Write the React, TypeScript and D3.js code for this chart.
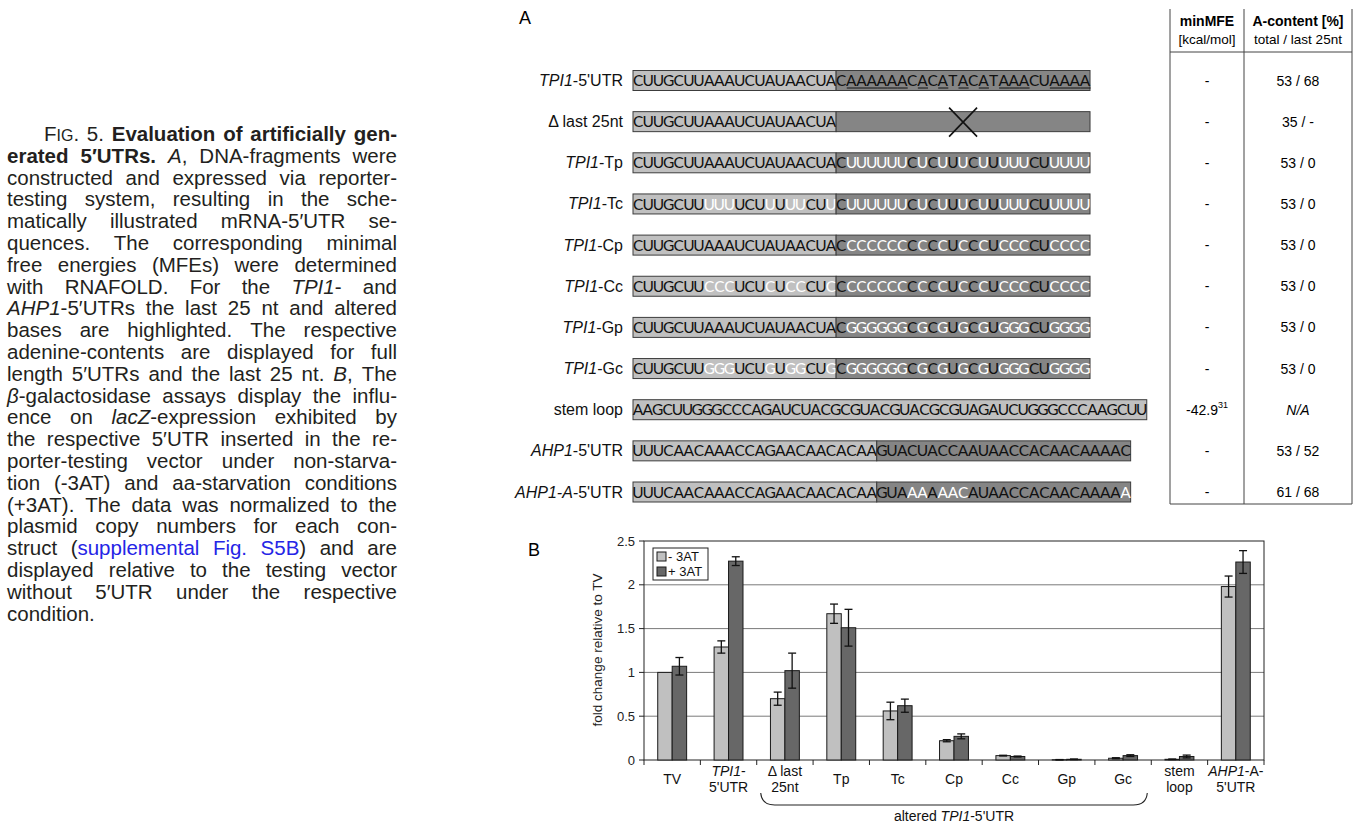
import React from 'react';
import * as d3 from 'd3';

// ---------- panel A: constructs ----------
const constructLabels = ["_TPI1_-5'UTR", 'Δ last 25nt', '_TPI1_-Tp', '_TPI1_-Tc', '_TPI1_-Cp', '_TPI1_-Cc',
  '_TPI1_-Gp', '_TPI1_-Gc', 'stem loop', "_AHP1_-5'UTR", "_AHP1-A-_5'UTR"];

// lower case = altered base (drawn white)
const headSeqs = [
  'CUUGCUUAAAUCUAUAACUA', 'CUUGCUUAAAUCUAUAACUA', 'CUUGCUUAAAUCUAUAACUA', 'CUUGCUUuuuUCUuUuuCUu',
  'CUUGCUUAAAUCUAUAACUA', 'CUUGCUUcccUCUcUccCUc', 'CUUGCUUAAAUCUAUAACUA', 'CUUGCUUgggUCUgUggCUg',
  'AAGCUUGGGCCCAGAUCUACGCGUACGUACGCGUAGAUCUGGGCCCAAGCUU',
  'UUUCAACAAACCAGAACAACACAA', 'UUUCAACAAACCAGAACAACACAA'];

// last 25 nt, '-' = deleted
const tailSeqs = [
  'CAAAAAACACATACATAAACUAAAA', '-------------------------',
  'CuuuuuuCuCuUuCuUuuuCUuuuu', 'CuuuuuuCuCuUuCuUuuuCUuuuu',
  'CccccccCcCcUcCcUcccCUcccc', 'CccccccCcCcUcCcUcccCUcccc',
  'CggggggCgCgUgCgUgggCUgggg', 'CggggggCgCgUgCgUgggCUgggg',
  '', 'GUACUACCAAUAACCACAACAAAAC', 'GUAaaAaacAUAACCACAACAAAAa'];

const underlineA = [true, false, false, false, false, false, false, false, false, false, false];

const mfeValues = ['-', '-', '-', '-', '-', '-', '-', '-', '-42.9', '-', '-'];
const mfeRefs = ['', '', '', '', '', '', '', '', '31', '', ''];
const aContent = ['53 / 68', '35 / -', '53 / 0', '53 / 0', '53 / 0', '53 / 0', '53 / 0', '53 / 0', '_N/A_', '53 / 52', '61 / 68'];

// ---------- panel B: beta-gal assay ----------
const categories = ['TV', "_TPI1_-|5'UTR", 'Δ last|25nt', 'Tp', 'Tc', 'Cp', 'Cc', 'Gp', 'Gc', 'stem|loop', "_AHP1_-A-|5'UTR"];
const minus3AT = [1.0, 1.29, 0.70, 1.67, 0.56, 0.22, 0.05, 0.003, 0.02, 0.008, 1.98];
const minus3ATErr = [0, 0.07, 0.075, 0.11, 0.10, 0.012, 0.004, 0.002, 0.006, 0.003, 0.12];
const plus3AT = [1.07, 2.27, 1.02, 1.51, 0.62, 0.27, 0.04, 0.008, 0.05, 0.04, 2.26];
const plus3ATErr = [0.10, 0.05, 0.20, 0.21, 0.075, 0.028, 0.005, 0.003, 0.01, 0.016, 0.13];
const yTicks = [0, 0.5, 1, 1.5, 2, 2.5];
const legendLabels = ['- 3AT', '+ 3AT'];

// ---------- caption ----------
const captionLines = [
  'F^IG^. 5. **Evaluation of artificially gen-**',
  '**erated 5′UTRs.** _A_, DNA-fragments were',
  'constructed and expressed via reporter-',
  'testing system, resulting in the sche-',
  'matically illustrated mRNA-5′UTR se-',
  'quences. The corresponding minimal',
  'free energies (MFEs) were determined',
  'with RNAFOLD. For the _TPI1_- and',
  '_AHP1_-5′UTRs the last 25 nt and altered',
  'bases are highlighted. The respective',
  'adenine-contents are displayed for full',
  'length 5′UTRs and the last 25 nt. _B_, The',
  '_β_-galactosidase assays display the influ-',
  'ence on _lacZ_-expression exhibited by',
  'the respective 5′UTR inserted in the re-',
  'porter-testing vector under non-starva-',
  'tion (-3AT) and aa-starvation conditions',
  '(+3AT). The data was normalized to the',
  'plasmid copy numbers for each con-',
  'struct ([supplemental Fig. S5B]) and are',
  'displayed relative to the testing vector',
  'without 5′UTR under the respective',
  'condition.',
];

const SANS = '"Liberation Sans", Arial, sans-serif';
const CAP_SIZE = 20.5;

const canvas = document.createElement('canvas');
const ctx = canvas.getContext('2d')!;
function measure(t: string, size: number, b: boolean, i: boolean) {
  ctx.font = `${i ? 'italic ' : ''}${b ? 'bold ' : ''}${size}px "Liberation Sans"`;
  return ctx.measureText(t).width;
}

type Run = { t: string; b: boolean; i: boolean; l: boolean; sc: boolean };
function parseLine(s: string): Run[][] {
  const words: Run[][] = [];
  let cur: Run[] = [];
  let b = false, it = false, l = false, sc = false, buf = '';
  const flush = () => { if (buf) { cur.push({ t: buf, b, i: it, l, sc }); buf = ''; } };
  for (let k = 0; k < s.length; k++) {
    const c = s[k];
    if (c === '*' && s[k + 1] === '*') { flush(); b = !b; k++; continue; }
    if (c === '_') { flush(); it = !it; continue; }
    if (c === '[') { flush(); l = true; continue; }
    if (c === ']') { flush(); l = false; continue; }
    if (c === '^') { flush(); sc = !sc; continue; }
    if (c === ' ') { flush(); if (cur.length) words.push(cur); cur = []; continue; }
    buf += c;
  }
  flush();
  if (cur.length) words.push(cur);
  return words;
}
const runWidth = (r: Run) => measure(r.t, r.sc ? CAP_SIZE * 0.78 : CAP_SIZE, r.b, r.i);

function rich(s: string) {
  return s.split('_').map((p, k) => p ? <tspan key={k} fontStyle={k % 2 ? 'italic' : 'normal'}>{p}</tspan> : null);
}

function Caption() {
  const left = 7, right = 397, y0 = 141, lh = 21.8, indent = 37;
  return (
    <g fontFamily={SANS} fontSize={CAP_SIZE} fill="#231f20">
      {captionLines.map((line, li) => {
        const words = parseLine(line);
        const widths = words.map(w => d3.sum(w, runWidth));
        const x0 = left + (li === 0 ? indent : 0);
        const last = li === captionLines.length - 1;
        const gap = last ? measure(' ', CAP_SIZE, false, false)
          : (right - x0 - d3.sum(widths)) / (words.length - 1);
        let x = x0;
        return words.map((w, wi) => {
          const el = (
            <text key={`${li}-${wi}`} x={x} y={y0 + li * lh}>
              {w.map((r, ri) => (
                <tspan key={ri} fontWeight={r.b ? 'bold' : 'normal'} fontStyle={r.i ? 'italic' : 'normal'}
                  fontSize={r.sc ? CAP_SIZE * 0.78 : CAP_SIZE} fill={r.l ? '#2525e6' : '#231f20'}>{r.t}</tspan>
              ))}
            </text>
          );
          x += widths[wi] + gap;
          return el;
        });
      })}
    </g>
  );
}

function PanelA() {
  const seqLeft = 633;
  const yRow = d3.scaleLinear().domain([0, 10]).range([80.5, 492]);
  const boxH = 20;
  const colX = [1170, 1244, 1352];
  return (
    <g>
      <text x={519} y={24} fontFamily={SANS} fontSize={18}>A</text>
      {constructLabels.map((lab, i) => {
        const cy = yRow(i);
        const total = headSeqs[i].length + tailSeqs[i].length;
        // long constructs are typeset slightly tighter
        const pitch = total > 49 ? 9.88 : 10.156;
        const xNt = d3.scaleLinear().domain([0, total]).range([seqLeft, seqLeft + total * pitch]);
        const segs = [
          { seq: headSeqs[i], fill: '#c0c0c0', start: 0 },
          { seq: tailSeqs[i], fill: '#858585', start: headSeqs[i].length },
        ].filter(s => s.seq.length);
        return (
          <g key={i}>
            <text x={623} y={cy + 5.5} textAnchor="end" fontFamily={SANS} fontSize={16} fill="#111">{rich(lab)}</text>
            {segs.map((s, si) => {
              const xa = xNt(s.start), xb = xNt(s.start + s.seq.length);
              const deleted = s.seq[0] === '-';
              return (
                <g key={si}>
                  <rect x={xa} y={cy - boxH / 2} width={xb - xa} height={boxH} fill={s.fill} stroke="#3c3c3c" strokeWidth={1} />
                  {!deleted && s.seq.split('').map((c, j) => (
                    <text key={j} x={xNt(s.start + j + 0.5)} y={cy + 5.6} textAnchor="middle"
                      fontFamily="Lato, sans-serif" fontSize={15.5}
                      fill={c === c.toLowerCase() ? '#ffffff' : '#111111'}>{c.toUpperCase()}</text>
                  ))}
                  {!deleted && si === 1 && underlineA[i] && s.seq.split('').map((c, j) => c === 'A' ? (
                    <line key={'u' + j} x1={xNt(s.start + j) + 0.5} x2={xNt(s.start + j + 1) + 0.5}
                      y1={cy + 7.5} y2={cy + 7.5} stroke="#111" strokeWidth={1} />
                  ) : null)}
                  {deleted && (
                    <g stroke="#111" strokeWidth={1.6}>
                      <line x1={(xa + xb) / 2 - 14} x2={(xa + xb) / 2 + 14} y1={cy - 14} y2={cy + 15} />
                      <line x1={(xa + xb) / 2 + 14} x2={(xa + xb) / 2 - 14} y1={cy - 14} y2={cy + 15} />
                    </g>
                  )}
                </g>
              );
            })}
            <text x={(colX[0] + colX[1]) / 2} y={cy + 5} textAnchor="middle" fontFamily={SANS} fontSize={14}>
              {mfeValues[i]}
              {mfeRefs[i] && <tspan fontSize={9} dy={-6.5}>{mfeRefs[i]}</tspan>}
            </text>
            <text x={(colX[1] + colX[2]) / 2} y={cy + 5} textAnchor="middle" fontFamily={SANS} fontSize={14}>
              {rich(aContent[i])}
            </text>
          </g>
        );
      })}
      <g stroke="#444" strokeWidth={1}>
        {colX.map(x => <line key={x} x1={x} x2={x} y1={9} y2={504} />)}
        <line x1={colX[0]} x2={colX[2]} y1={52} y2={52} />
        <line x1={colX[0]} x2={colX[2]} y1={504} y2={504} />
      </g>
      <g fontFamily={SANS} textAnchor="middle">
        <text x={(colX[0] + colX[1]) / 2} y={26} fontSize={14} fontWeight="bold">minMFE</text>
        <text x={(colX[0] + colX[1]) / 2} y={44} fontSize={13.5}>[kcal/mol]</text>
        <text x={(colX[1] + colX[2]) / 2} y={26} fontSize={14} fontWeight="bold">A-content [%]</text>
        <text x={(colX[1] + colX[2]) / 2} y={44} fontSize={13.5}>total / last 25nt</text>
      </g>
    </g>
  );
}

function PanelB() {
  const x0 = d3.scaleBand().domain(categories).range([644, 1264]);
  const x1 = d3.scaleBand().domain(['minus', 'plus']).range([0, x0.bandwidth()]).paddingOuter(0.95);
  const y = d3.scaleLinear().domain([0, 2.5]).range([760, 541]);
  const series = [
    { key: 'minus', vals: minus3AT, errs: minus3ATErr, fill: '#c0c0c0' },
    { key: 'plus', vals: plus3AT, errs: plus3ATErr, fill: '#676767' },
  ];
  const bx = (cat: string) => x0(cat)!;
  const braceL = bx(categories[2]) + 4, braceR = bx(categories[8]) + x0.bandwidth() - 4;
  const brace = d3.path();
  brace.moveTo(braceL, 793);
  brace.quadraticCurveTo(braceL + 1, 805, braceL + 14, 805);
  brace.lineTo(braceR - 14, 805);
  brace.quadraticCurveTo(braceR - 1, 805, braceR, 793);
  return (
    <g fontFamily={SANS}>
      <text x={528} y={556} fontSize={18}>B</text>
      {yTicks.slice(1, -1).map(t => (
        <line key={t} x1={644} x2={1264} y1={y(t)} y2={y(t)} stroke="#7a7a7a" strokeWidth={1} />
      ))}
      <rect x={644} y={y(2.5)} width={620} height={y(0) - y(2.5)} fill="none" stroke="#222" strokeWidth={1} />
      {yTicks.map(t => (
        <g key={t}>
          <line x1={639} x2={644} y1={y(t)} y2={y(t)} stroke="#222" />
          <text x={635} y={y(t) + 4.5} textAnchor="end" fontSize={13} fill="#222">{t}</text>
        </g>
      ))}
      {categories.map(c => (
        <line key={c} x1={bx(c)} x2={bx(c)} y1={760} y2={765} stroke="#222" />
      ))}
      <line x1={1264} x2={1264} y1={760} y2={765} stroke="#222" />
      {series.map(s => categories.map((c, i) => {
        const xb = bx(c) + x1(s.key)!;
        const w = x1.bandwidth();
        const v = s.vals[i], e = s.errs[i];
        const cx = xb + w / 2;
        return (
          <g key={s.key + c}>
            <rect x={xb} y={y(v)} width={w} height={y(0) - y(v)} fill={s.fill} stroke="#1a1a1a" strokeWidth={1} />
            {e > 0 && (
              <g stroke="#111" strokeWidth={1.3}>
                <line x1={cx} x2={cx} y1={y(v + e)} y2={y(Math.max(0, v - e))} />
                <line x1={cx - 4} x2={cx + 4} y1={y(v + e)} y2={y(v + e)} />
                <line x1={cx - 4} x2={cx + 4} y1={y(Math.max(0, v - e))} y2={y(Math.max(0, v - e))} />
              </g>
            )}
          </g>
        );
      }))}
      {categories.map(c => {
        const lines = c.split('|');
        const cx = bx(c) + x0.bandwidth() / 2;
        const yStart = lines.length === 1 ? 784 : 776;
        return (
          <text key={'l' + c} textAnchor="middle" fontSize={14} fill="#111">
            {lines.map((ln, k) => <tspan key={k} x={cx} y={yStart + k * 16}>{rich(ln)}</tspan>)}
          </text>
        );
      })}
      <path d={brace.toString()} fill="none" stroke="#222" strokeWidth={1.1} />
      <text x={(braceL + braceR) / 2} y={821} textAnchor="middle" fontSize={14} fill="#111">
        altered <tspan fontStyle="italic">TPI1</tspan>-5'UTR
      </text>
      <text transform="translate(602,650) rotate(-90)" textAnchor="middle" fontSize={13.5} fill="#222">
        fold change relative to TV
      </text>
      <rect x={653} y={548} width={55} height={32} fill="#fff" stroke="#222" />
      {legendLabels.map((lab, k) => (
        <g key={lab}>
          <rect x={657} y={552 + k * 15} width={9} height={9} fill={series[k].fill} stroke="#1a1a1a" />
          <text x={668} y={561 + k * 15} fontSize={13} fill="#111">{lab}</text>
        </g>
      ))}
    </g>
  );
}

export default function App() {
  return (
    <svg width={1353} height={827} style={{ position: 'absolute', left: 0, top: 0, background: '#fff' }}>
      <rect width={1353} height={827} fill="#fff" />
      <Caption />
      <PanelA />
      <PanelB />
    </svg>
  );
}
